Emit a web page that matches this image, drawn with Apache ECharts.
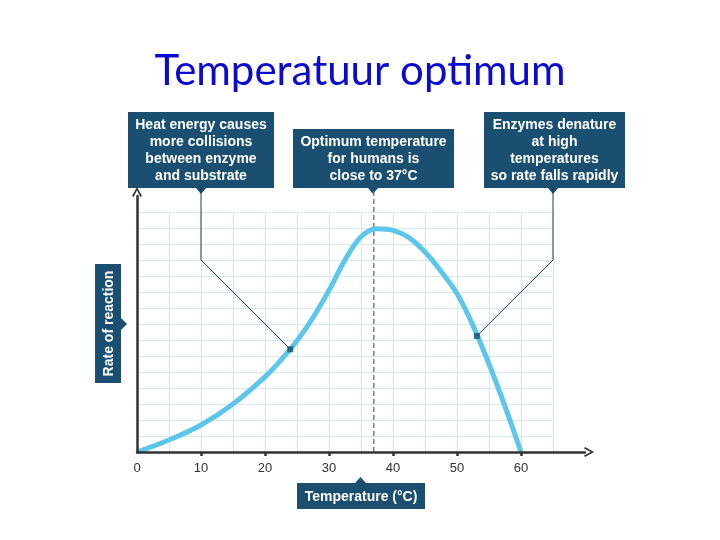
<!DOCTYPE html>
<html>
<head>
<meta charset="utf-8">
<script src="https://cdn.jsdelivr.net/npm/echarts@6/dist/echarts.min.js"></script>
<style>html,body{margin:0;padding:0;background:#fff;}#c{width:720px;height:540px;}</style>
</head>
<body>
<div id="c"></div>
<script>
// ---- data ----
var titleText = 'Temperatuur optimum';
var temps = [0, 5, 10, 15, 20, 22.5, 25, 27.5, 30, 32.5, 35, 37.5, 40, 42.5, 45, 47.5, 50, 52.5, 55, 57.5, 60];
var rates = [0, 0.75, 1.69, 3.0, 4.7, 5.75, 6.95, 8.4, 10.1, 12.0, 13.45, 13.95, 13.85, 13.4, 12.5, 11.3, 9.9, 7.9, 5.5, 2.85, 0];
var xTickLabels = [0, 10, 20, 30, 40, 50, 60];
var optimumLine = [[37, 0], [37, 16.3]];
var pointer1 = [[10, 16.5], [10, 12], [23.95, 6.42]];
var pointer2 = [[65, 16.5], [65, 12], [53.1, 7.25]];
var markers = [[23.95, 6.42], [53.1, 7.25]];
var box1Text = 'Heat energy causes\nmore collisions\nbetween enzyme\nand substrate';
var box2Text = 'Optimum temperature\nfor humans is\nclose to 37°C';
var box3Text = 'Enzymes denature\nat high\ntemperatures\nso rate falls rapidly';
var xLabel = 'Temperature (°C)';
var yLabel = 'Rate of reaction';

var BOX = '#1a4f72';
var FONT = '"Liberation Sans", Arial, sans-serif';

function box(x, y, w, h, text, tri) {
  var children = [
    {type: 'rect', shape: {x: x, y: y, width: w, height: h}, style: {fill: BOX}},
    {type: 'text', x: x + w / 2, y: y + h / 2 + 1, style: {text: text, fill: '#fff', font: 'bold 14px ' + FONT, align: 'center', verticalAlign: 'middle', lineHeight: 17}}
  ];
  if (tri) children.push({type: 'polygon', shape: {points: tri}, style: {fill: BOX}});
  return {type: 'group', children: children};
}

var chart = echarts.init(document.getElementById('c'), null, {renderer: 'canvas'});
var arrowPath = 'path://M0,9 L5,0 L10,9 L8.4,10 L5,3.2 L1.6,10 Z';

chart.setOption({
  animation: false,
  backgroundColor: '#fff',
  title: {text: titleText, left: 'center', top: 45, textStyle: {fontFamily: 'Lato, sans-serif', fontWeight: 'normal', fontSize: 42, color: '#0a0ad2'}},
  grid: [
    {left: 137, top: 196, width: 448, height: 256},
    {left: 137, top: 212, width: 416, height: 240}
  ],
  xAxis: [
    {type: 'value', gridIndex: 0, min: 0, max: 70, interval: 10,
     axisLine: {lineStyle: {color: '#333', width: 2.5}, symbol: ['none', arrowPath], symbolSize: [12, 10], symbolOffset: [0, 4]},
     axisTick: {show: true, length: 4, lineStyle: {color: '#333', width: 2.5}, customValues: [10, 20, 30, 40, 50, 60]},
     axisLabel: {customValues: xTickLabels, margin: 10, color: '#333', fontSize: 13, fontFamily: FONT},
     splitLine: {show: false}, z: 5},
    {type: 'value', gridIndex: 1, min: 0, max: 65, interval: 5,
     axisLine: {show: false}, axisTick: {show: false}, axisLabel: {show: false},
     splitLine: {show: true, lineStyle: {color: '#d3e9f2', width: 1}}}
  ],
  yAxis: [
    {type: 'value', gridIndex: 0, min: 0, max: 16, interval: 1,
     axisLine: {show: true, lineStyle: {color: '#333', width: 2.5}, symbol: ['none', arrowPath], symbolSize: [12, 10], symbolOffset: [0, 4]},
     axisTick: {show: false}, axisLabel: {show: false}, splitLine: {show: false}, z: 5},
    {type: 'value', gridIndex: 1, min: 0, max: 15, interval: 1,
     axisLine: {show: false}, axisTick: {show: false}, axisLabel: {show: false},
     splitLine: {show: true, lineStyle: {color: '#d3e9f2', width: 1}}}
  ],
  series: [
    {type: 'line', xAxisIndex: 0, yAxisIndex: 0, data: optimumLine, showSymbol: false, clip: false,
     lineStyle: {color: '#7a7f84', type: [5, 3], width: 1.5}, z: 2},
    {type: 'line', xAxisIndex: 0, yAxisIndex: 0, data: temps.map(function (t, i) { return [t, rates[i]]; }),
     smooth: 0.35, showSymbol: false, lineStyle: {color: '#5cc6ec', width: 5}, z: 3, clip: false},
    {type: 'line', xAxisIndex: 0, yAxisIndex: 0, data: pointer1, showSymbol: false, clip: false,
     lineStyle: {color: '#1d3e55', width: 1}, z: 4},
    {type: 'line', xAxisIndex: 0, yAxisIndex: 0, data: pointer2, showSymbol: false, clip: false,
     lineStyle: {color: '#1d3e55', width: 1}, z: 4},
    {type: 'scatter', xAxisIndex: 0, yAxisIndex: 0, data: markers, symbol: 'rect', symbolSize: 6,
     itemStyle: {color: BOX}, z: 6}
  ],
  graphic: [
    box(128, 112, 146, 76, box1Text, [[196, 188], [206, 188], [201, 194]]),
    box(293, 129, 161, 59, box2Text, [[368, 188], [378, 188], [373, 194]]),
    box(484, 112, 141, 76, box3Text, [[548, 188], [558, 188], [553, 194]]),
    box(297, 483, 128, 26, xLabel, [[355, 483], [366, 483], [360.5, 477]]),
    {type: 'group', children: [
      {type: 'rect', shape: {x: 95, y: 264, width: 26, height: 119}, style: {fill: BOX}},
      {type: 'polygon', shape: {points: [[121, 318], [121, 330], [127, 324]]}, style: {fill: BOX}},
      {type: 'text', x: 109, y: 323.5, rotation: Math.PI / 2, style: {text: yLabel, fill: '#fff', font: 'bold 14px ' + FONT, align: 'center', verticalAlign: 'middle'}}
    ]}
  ]
});
</script>
</body>
</html>
